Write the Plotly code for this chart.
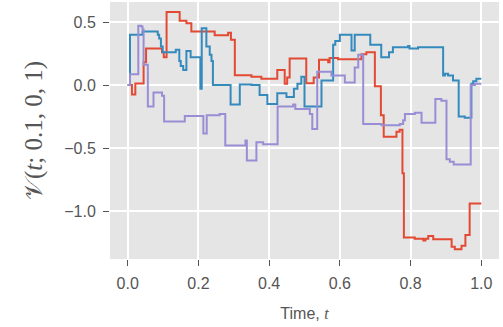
import plotly.graph_objects as go

# Red series (step, value holds from t onward)
red_t = [0, 0.012, 0.0216, 0.045, 0.052, 0.097, 0.102, 0.11, 0.147, 0.166, 0.18, 0.246, 0.284, 0.292,
         0.303, 0.35, 0.378, 0.423, 0.444, 0.451, 0.458, 0.505, 0.526, 0.541, 0.567, 0.571, 0.595,
         0.661, 0.675, 0.699, 0.716, 0.724, 0.760, 0.769, 0.777, 0.781, 0.812, 0.836, 0.842, 0.85,
         0.864, 0.916, 0.925, 0.944, 0.955, 0.967, 1.0]
red_v = [0, -0.075, 0.013, 0.18, 0.29, 0.26, 0.22, 0.58, 0.51, 0.49, 0.425, 0.395, 0.415, 0.36,
         0.078, 0.065, 0.05, 0.12, 0.01, 0.06, 0.21, 0.015, 0.06, 0.20, 0.18, 0.215, 0.205,
         0.245, 0.26, -0.01, -0.24, -0.41, -0.37, -0.355, -0.70, -1.21, -1.22, -1.235, -1.22, -1.198,
         -1.225, -1.283, -1.304, -1.275, -1.19, -0.94, -0.94]

# Blue series
blue_t = [0, 0.0066, 0.042, 0.085, 0.089, 0.094, 0.099, 0.136, 0.146, 0.150, 0.157, 0.166, 0.178,
          0.2056, 0.2094, 0.2225, 0.232, 0.237, 0.241, 0.291, 0.317, 0.350, 0.373, 0.395, 0.423,
          0.449, 0.47, 0.48, 0.491, 0.50, 0.548, 0.581, 0.587, 0.60, 0.633, 0.642, 0.686, 0.717,
          0.739, 0.75, 0.793, 0.797, 0.821, 0.892, 0.897, 0.906, 0.92, 0.936, 0.953, 0.972, 0.977,
          0.986, 1.0]
blue_v = [0, 0.40, 0.425, 0.40, 0.37, 0.305, 0.26, 0.28, 0.19, 0.15, 0.12, 0.27, 0.22,
          -0.03, 0.45, 0.305, 0.24, 0.19, 0.0, -0.155, 0.005, 0.0, -0.08, -0.15, -0.065,
          -0.095, -0.03, 0.01, 0.065, -0.17, 0.035, 0.32, 0.35, 0.40, 0.275, 0.40, 0.32, 0.22,
          0.26, 0.30, 0.31, 0.29, 0.30, 0.075, 0.09, 0.075, 0.035, -0.25, -0.26, 0.01, 0.03,
          0.05, 0.05]

# Purple series
purple_t = [0, 0.0066, 0.030, 0.0385, 0.042, 0.045, 0.057, 0.073, 0.097, 0.103, 0.1615, 0.214,
            0.2235, 0.26, 0.276, 0.333, 0.337, 0.364, 0.383, 0.424, 0.468, 0.474, 0.515, 0.522,
            0.536, 0.576, 0.614, 0.642, 0.652, 0.666, 0.718, 0.7695, 0.779, 0.784, 0.812, 0.831,
            0.870, 0.887, 0.9015, 0.911, 0.922, 0.970, 0.982, 1.0]
purple_v = [0, 0.085, 0.47, 0.465, 0.44, 0.16, -0.17, -0.06, -0.085, -0.29, -0.245, -0.385,
            -0.24, -0.23, -0.48, -0.44, -0.60, -0.455, -0.47, -0.17, -0.155, -0.19, -0.23, -0.35,
            0.105, 0.075, 0.02, 0.14, 0.24, -0.31, -0.32, -0.31, -0.28, -0.23, -0.22, -0.30,
            -0.11, -0.125, -0.59, -0.61, -0.63, 0.0, 0.01, 0.01]

x_ticks = [0.0, 0.2, 0.4, 0.6, 0.8, 1.0]
y_ticks = [-1.0, -0.5, 0.0, 0.5]

series = [(red_t, red_v, "#E24A33"), (blue_t, blue_v, "#348ABD"), (purple_t, purple_v, "#988ED5")]

fig = go.Figure()
for t, v, c in series:
    fig.add_trace(go.Scatter(x=t, y=v, mode="lines", line=dict(color=c, width=2, shape="hv"),
                             showlegend=False, hoverinfo="skip"))

axis_common = dict(showgrid=True, gridcolor="white", gridwidth=1.6, zeroline=False,
                   ticks="outside", ticklen=6, tickwidth=1, tickcolor="#555555",
                   tickfont=dict(family="Liberation Sans, Arial", size=16, color="#555555"),
                   ticklabelstandoff=4, showline=False)

fig.update_layout(
    width=503, height=327,
    margin=dict(l=110, r=4, t=2, b=68),
    paper_bgcolor="white", plot_bgcolor="#E5E5E5",
    xaxis=dict(range=[-0.05, 1.05], tickvals=x_ticks, ticktext=[f"{x:.1f}" for x in x_ticks],
               title=dict(text="Time, <i style='font-family:Liberation Serif'>t</i>",
                          font=dict(family="Liberation Sans, Arial", size=16, color="#555555"),
                          standoff=16),
               **axis_common),
    yaxis=dict(range=[-1.381, 0.659], tickvals=y_ticks,
               ticktext=["\u22121.0", "\u22120.5", "0.0", "0.5"],
               title=dict(text="\U0001D4B1(<i>t</i>; 0.1, 0, 1)",
                          font=dict(family="Liberation Serif", size=25, color="#555555"),
                          standoff=14),
               **axis_common),
)

fig.write_html("out.html")
